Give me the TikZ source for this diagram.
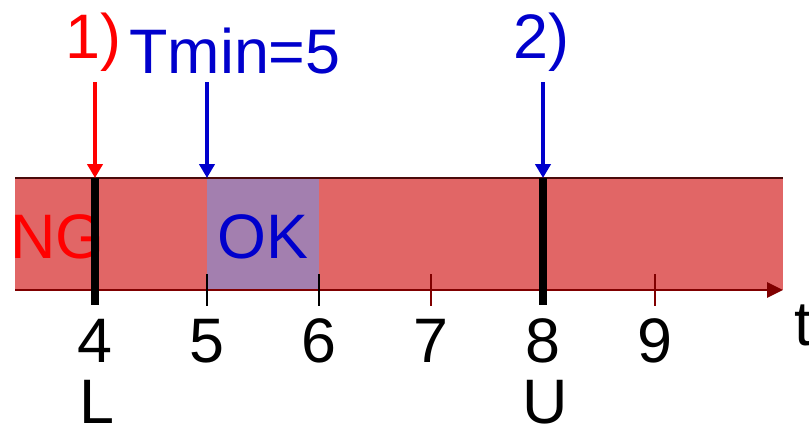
\documentclass[tikz,border=0pt]{standalone}
\usepackage{fontspec}
\setmainfont{Liberation Sans}
\usepackage{tikz}
\usetikzlibrary{arrows.meta}
\definecolor{BarRed}{HTML}{E16666}
\definecolor{OkPurple}{HTML}{A37FAF}
\definecolor{AxisRed}{HTML}{800000}
\definecolor{TopLine}{HTML}{4A0A0A}
\definecolor{MarkRed}{HTML}{FF0000}
\definecolor{MarkBlue}{HTML}{0000CC}

\begin{document}
\begin{tikzpicture}[x=0.025cm, y=-0.025cm, every node/.style={font=\fontsize{44.7}{50}\selectfont, inner sep=0pt}]
      \useasboundingbox (0,0) rectangle (809,430);
      % bar and OK window
      \fill[BarRed] (15,178) rectangle (783,290);
      \fill[OkPurple] (207,178) rectangle (319,290);
      \draw[line width=1.6pt, TopLine] (15,178) -- (783,178);
      \node[anchor=base west, MarkRed] (ng) at (10,258) {NG};
      \node[anchor=base, MarkBlue] (ok) at (263,258) {OK};
      % time axis
      \coordinate (a0) at (15,290);
      \coordinate (a1) at (783,290);
      \draw[-{Triangle[length=4mm, width=3.8mm]}, line width=1.6pt, AxisRed] (a0) -- (a1);
      \draw[line width=1.2pt, AxisRed] (431,274) -- (431,306);
      \draw[line width=1.2pt, AxisRed] (655,274) -- (655,306);
      \draw[line width=1.2pt, black] (207,274) -- (207,306);
      \draw[line width=1.2pt, black] (319,274) -- (319,306);
      \node[anchor=base] (t4) at (95,362) {4};
      \node[anchor=base] (t5) at (207,362) {5};
      \node[anchor=base] (t6) at (319,362) {6};
      \node[anchor=base] (t7) at (431,362) {7};
      \node[anchor=base] (t8) at (543,362) {8};
      \node[anchor=base] (t9) at (655,362) {9};
      \node[anchor=base west] (tt) at (794,345) {t};
      \node[anchor=base] (lo) at (97,423) {L};
      \node[anchor=base] (up) at (545,423) {U};
      % bounds L and U
      \coordinate (l1) at (95,178);
      \coordinate (l2) at (95,305);
      \coordinate (u1) at (543,178);
      \coordinate (u2) at (543,305);
      \draw[line width=5.7pt, black] (l1) -- (l2);
      \draw[line width=5.7pt, black] (u1) -- (u2);
      % markers
      \node[anchor=base west, MarkRed] (m1) at (65,58) {1)};
      \node[anchor=base west, MarkBlue] (tmin) at (129,73) {Tmin=5};
      \node[anchor=base west, MarkBlue] (m2) at (513,58) {2)};
      \coordinate (s1) at (95,82);
      \coordinate (s5) at (207,82);
      \coordinate (s2) at (543,82);
      \coordinate (e5) at (207,178);
      \draw[-{Triangle[length=3.5mm, width=3.8mm]}, line width=2.8pt, MarkRed] (s1) -- (l1);
      \draw[-{Triangle[length=3.5mm, width=3.8mm]}, line width=2.8pt, MarkBlue] (s5) -- (e5);
      \draw[-{Triangle[length=3.5mm, width=3.8mm]}, line width=2.8pt, MarkBlue] (s2) -- (u1);
    \end{tikzpicture}
\end{document}
